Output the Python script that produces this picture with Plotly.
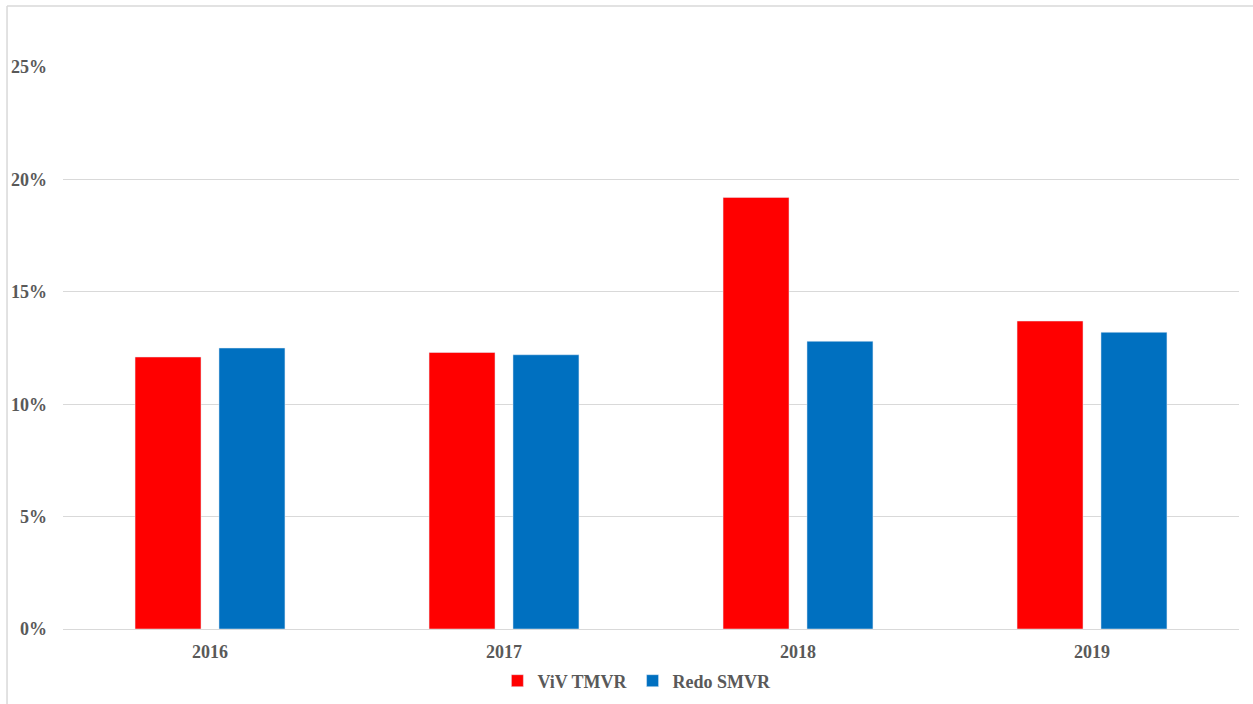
import plotly.graph_objects as go

years = ["2016", "2017", "2018", "2019"]
viv_tmvr = [12.1, 12.3, 19.2, 13.7]
redo_smvr = [12.5, 12.2, 12.8, 13.2]
y_ticks = [0, 5, 10, 15, 20, 25]
y_tick_labels = ["0%", "5%", "10%", "15%", "20%", "25%"]

font_family = "Liberation Serif, Times New Roman, serif"
text_color = "#595959"
grid_color = "#d9d9d9"

fig = go.Figure()
fig.add_trace(go.Bar(name="ViV TMVR", x=years, y=viv_tmvr, marker_color="#ff0000"))
fig.add_trace(go.Bar(name="Redo SMVR", x=years, y=redo_smvr, marker_color="#0070c0"))

fig.update_layout(
    width=1253,
    height=704,
    margin=dict(l=63, r=14, t=67, b=75, autoexpand=False),
    paper_bgcolor="white",
    plot_bgcolor="white",
    barmode="group",
    bargap=0.429,
    bargroupgap=0.214,
    font=dict(family=font_family, size=18, color=text_color),
    showlegend=True,
    legend=dict(
        orientation="h",
        x=0.488,
        xanchor="center",
        y=-0.0925,
        yanchor="middle",
        font=dict(family=font_family, size=18, color=text_color, weight="bold"),
        itemwidth=30,
        traceorder="normal",
    ),
    xaxis=dict(
        showgrid=False,
        showline=True,
        linecolor=grid_color,
        linewidth=1,
        tickfont=dict(family=font_family, size=18, color=text_color, weight="bold"),
        ticks="",
        ticklabelstandoff=6,
    ),
    yaxis=dict(
        range=[0, 25],
        tickvals=y_ticks,
        ticktext=y_tick_labels,
        showgrid=True,
        gridcolor=grid_color,
        gridwidth=1,
        zeroline=False,
        showline=False,
        tickfont=dict(family=font_family, size=18, color=text_color, weight="bold"),
        ticks="",
        ticklabelstandoff=15,
    ),
    shapes=[
        dict(type="line", xref="paper", yref="paper", x0=-0.0476, x1=1.02,
             y0=1.1085, y1=1.1085, line=dict(color=grid_color, width=1.5)),
        dict(type="line", xref="paper", yref="paper", x0=-0.0476, x1=-0.0476,
             y0=1.1085, y1=-0.14, line=dict(color=grid_color, width=1.5)),
    ],
)

fig.write_html("out.html")
